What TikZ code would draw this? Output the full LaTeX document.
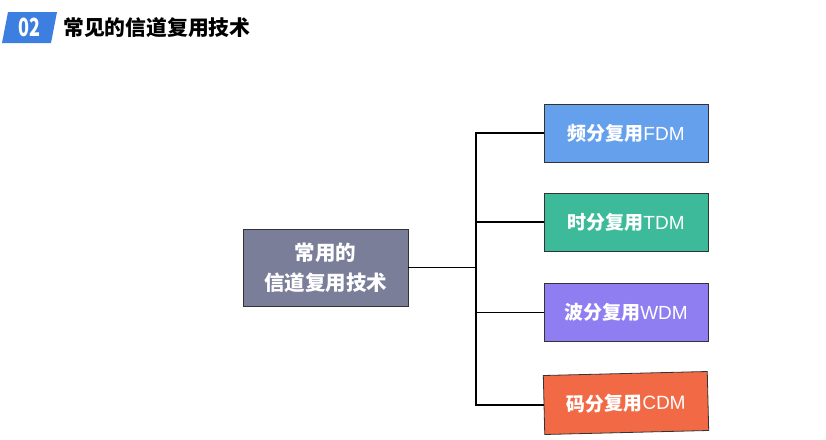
\documentclass[tikz,border=0pt]{standalone}
\usepackage{fontspec}
\newfontfamily\cjk{Noto Sans CJK SC}
\newfontfamily\lat{Liberation Sans}
\usetikzlibrary{positioning}
\definecolor{badgeblue}{HTML}{3D7FE0}
\definecolor{maingray}{HTML}{7A7E99}
\definecolor{fdmblue}{HTML}{64A0EB}
\definecolor{tdmteal}{HTML}{3DBA9A}
\definecolor{wdmpurple}{HTML}{8F7DF2}
\definecolor{cdmorange}{HTML}{F26A45}

\begin{document}
\begin{tikzpicture}[x=1pt, y=-1pt,
box/.style = {draw=black!80, line width=0.8pt, minimum width=164pt,
              minimum height=58pt, text=white, font=\cjk\bfseries\fontsize{19}{22}\selectfont},
link/.style = {line width=1.8pt}
                        ]
\useasboundingbox[fill=white] (0,0) rectangle (826,439);
% title
\fill[badgeblue] (8,12) -- (57,12) -- (51,43) -- (2,43) -- cycle;
\node (num) [text=white, transform shape, xscale=0.72,
      font=\cjk\bfseries\fontsize{25}{26}\selectfont] at (29,27.5) {02};
\node (title) [anchor=west, inner sep=0pt, font=\cjk\bfseries\fontsize{20.8}{22}\selectfont] at (63,28) {常见的信道复用技术};
% tree
\node (main) [box, fill=maingray, minimum width=165pt, minimum height=77pt, align=center,
      font=\cjk\bfseries\fontsize{20.5}{30}\selectfont] at (325.5,267.5) {常用的\\信道复用技术};
\node (fdm) [box, fill=fdmblue] at (626,133) {频分复用{\lat\mdseries FDM}};
\node (tdm) [box, fill=tdmteal] at (626,222) {时分复用{\lat\mdseries TDM}};
\node (wdm) [box, fill=wdmpurple] at (626,312.5) {波分复用{\lat\mdseries WDM}};
\node (cdm) [box, fill=cdmorange, minimum height=59pt, rotate=1.4] at (626,403) {码分复用{\lat\mdseries CDM}};
\coordinate (fork) at (476,267.5);
\draw[link] (main.east) -- (fork);
\draw[link] (fdm.west) -| (fork);
\draw[link] (tdm.west) -| (fork);
\draw[link] (wdm.west) -| (fork);
\draw[link] (cdm.west) -| (fork);
\end{tikzpicture}
\end{document}
